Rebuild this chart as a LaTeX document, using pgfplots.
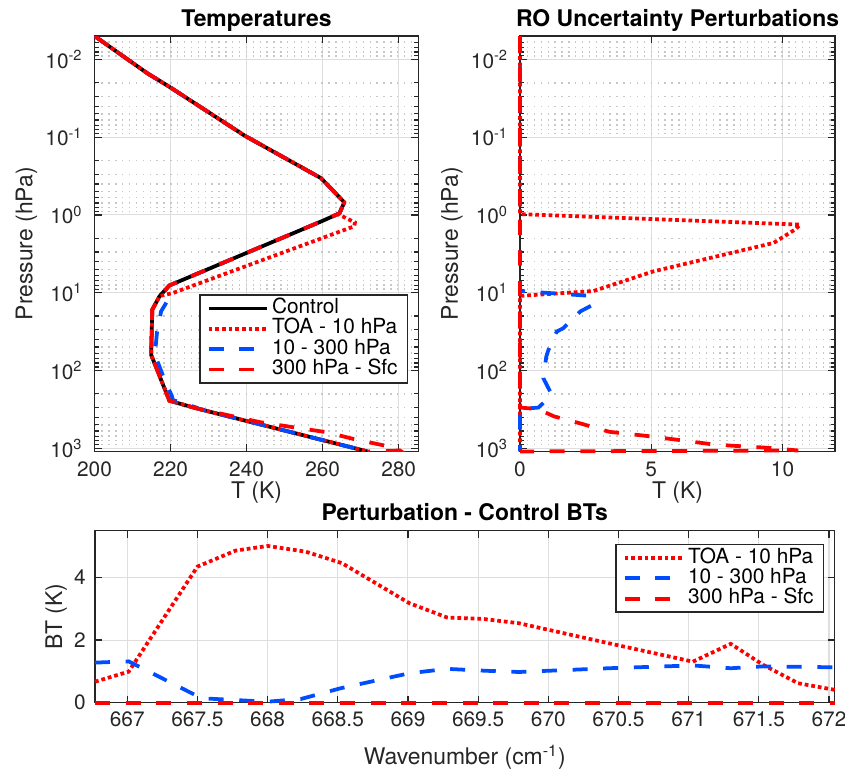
\documentclass[border=0pt]{standalone}
\usepackage{fontspec}
\setmainfont{TeX Gyre Heros}
\usepackage{pgfplots}
\pgfplotsset{compat=1.18}
\definecolor{mblue}{RGB}{0,76,255}
\definecolor{mred}{RGB}{255,0,0}
\definecolor{axgray}{gray}{0.15}
\pgfkeys{/pgf/number format/assume math mode=true}

\tikzset{
  ctrl/.style={black, line width=1.8pt, line join=round},
  toa/.style={mred, line width=1.8pt, dash pattern=on 1.8pt off 1.4pt},
  mid/.style={mblue, line width=1.8pt, dash pattern=on 7.2pt off 7.5pt},
  sfc/.style={mred, line width=1.8pt, dash pattern=on 7.2pt off 7.5pt},
}

\pgfplotsset{
  every axis title shift=0pt,
  every axis/.append style={
    scale only axis,
    axis line style={axgray, line width=0.8pt},
    tick style={axgray, line width=0.6pt},
    tick align=inside,
    major tick length=3.4pt,
    minor tick length=2pt,
    xmajorgrids=true, ymajorgrids=true,
    major grid style={black!13, line width=0.5pt},
    minor grid style={black!22, line width=0.7pt, dash pattern=on 0.7pt off 2.6pt},
    tick label style={font=\fontsize{10}{12}\selectfont, text=axgray},
    label style={font=\fontsize{11}{13}\selectfont, text=axgray},
    legend cell align=left,
    legend style={draw=axgray, line width=0.6pt, fill=white, inner xsep=3.3pt, inner ysep=1.6pt,
      font=\fontsize{10}{10}\selectfont, text=black, row sep=0pt,
      nodes={inner xsep=1.5pt, inner ysep=0pt, text height=7.3pt, text depth=2.45pt}},
    legend image code/.code={\draw[#1] (2pt,0pt) -- (30pt,0pt);},
  },
}

\begin{document}
\begin{tikzpicture}
% ---------------- Temperatures ----------------
\begin{axis}[
  at={(45.36pt,-17.28pt)}, anchor=north west,
  width=155.5pt, height=199.4pt,
  ymode=log, y dir=reverse, ymin=0.005, ymax=1100,
  ytick={0.01,0.1,1,10,100,1000},
  yticklabels={10\textsuperscript{-2},10\textsuperscript{-1},10\textsuperscript{0},10\textsuperscript{1},10\textsuperscript{2},10\textsuperscript{3}},
  minor ytick={0.006,0.007,0.008,0.009,0.02,0.03,0.04,0.05,0.06,0.07,0.08,0.09,0.2,0.3,0.4,0.5,0.6,0.7,0.8,0.9,2,3,4,5,6,7,8,9,20,30,40,50,60,70,80,90,200,300,400,500,600,700,800,900},
  yminorgrids=true,
  xmin=200, xmax=285.2, xtick={200,220,240,260,280},
  xticklabel style={anchor=base, inner sep=0pt, yshift=-11.8pt},
  yticklabel style={anchor=east, inner sep=0pt, xshift=-5.5pt},
  xlabel={T (K)},
  xlabel style={at={(axis description cs:0.5,0)}, anchor=base, yshift=-22.6pt},
  ylabel={Pressure (hPa)},
  ylabel style={at={([xshift=-29.8pt]axis description cs:0,0.5)}, anchor=base},
  title={Temperatures},
  title style={font=\bfseries\fontsize{11}{13}\selectfont, at={([yshift=4.5pt]axis description cs:0.5,1)}, anchor=base},
  legend style={at={(0.9685,0.378)}, anchor=north east},
]
\addplot[ctrl] coordinates {(200.0,0.005) (214.0,0.0152) (219.7,0.0225) (239.4,0.095) (259.6,0.337) (265.7,0.69) (264.4,0.955) (260.0,1.19) (219.7,8.07) (217.1,11.1) (215.2,16.5) (214.9,63) (219.7,245) (226.7,306) (271.8,1100)};
\addlegendentry{Control}
\addplot[toa] coordinates {(200.0,0.005) (214.0,0.0152) (219.7,0.0225) (239.4,0.095) (259.6,0.337) (265.7,0.69) (264.4,0.955) (264.0,0.9753) (268.5,1.25) (268.3,1.40) (220.6,10.1) (217.2,11.0) (215.2,16.5) (214.9,63) (219.7,245) (226.7,306) (271.8,1100)};
\addlegendentry{TOA - 10 hPa}
\addplot[mid] coordinates {(200.0,0.005) (214.0,0.0152) (219.7,0.0225) (239.4,0.095) (259.6,0.337) (265.7,0.69) (264.4,0.955) (260.0,1.19) (219.7,8.07) (218.4,9.51) (219.9,11.0) (218.5,14.46) (217.5,17.4) (216.75,28.6) (216.45,31.6) (216.0,54.7) (216.1,66.7) (218.45,133) (219.5,174) (220.3,209) (220.6,240) (226.8,300) (227.6,314) (271.8,1100)};
\addlegendentry{10 - 300 hPa}
\addplot[sfc] coordinates {(200.0,0.005) (214.0,0.0152) (219.7,0.0225) (239.4,0.095) (259.6,0.337) (265.7,0.69) (264.4,0.955) (260.0,1.19) (219.7,8.07) (217.1,11.1) (215.2,16.5) (214.9,63) (219.7,245) (226.05,300) (235.5,380) (243.4,461) (252.1,536) (260.9,621) (267.9,756) (278.3,971) (279.6,1018) (280.3,1070) (271.8,1100)};
\addlegendentry{300 hPa - Sfc}
\end{axis}

% ---------------- RO Uncertainty Perturbations ----------------
\begin{axis}[
  at={(249.6pt,-17.28pt)}, anchor=north west,
  width=151.2pt, height=199.4pt,
  ymode=log, y dir=reverse, ymin=0.005, ymax=1100,
  ytick={0.01,0.1,1,10,100,1000},
  yticklabels={10\textsuperscript{-2},10\textsuperscript{-1},10\textsuperscript{0},10\textsuperscript{1},10\textsuperscript{2},10\textsuperscript{3}},
  minor ytick={0.006,0.007,0.008,0.009,0.02,0.03,0.04,0.05,0.06,0.07,0.08,0.09,0.2,0.3,0.4,0.5,0.6,0.7,0.8,0.9,2,3,4,5,6,7,8,9,20,30,40,50,60,70,80,90,200,300,400,500,600,700,800,900},
  yminorgrids=true,
  xmin=0, xmax=12, xtick={0,5,10},
  xticklabel style={anchor=base, inner sep=0pt, yshift=-11.8pt},
  yticklabel style={anchor=east, inner sep=0pt, xshift=-5.5pt},
  xlabel={T (K)},
  xlabel style={at={(axis description cs:0.5,0)}, anchor=base, yshift=-22.6pt},
  ylabel={Pressure (hPa)},
  ylabel style={at={([xshift=-29.8pt]axis description cs:0,0.5)}, anchor=base},
  title={RO Uncertainty Perturbations},
  title style={font=\bfseries\fontsize{11}{13}\selectfont, at={([yshift=4.5pt]axis description cs:0.5,1)}, anchor=base},
  clip=false,
]
\addplot[toa] coordinates {(0,0.005) (0,0.9753) (10.67,1.33) (10.48,1.54) (9.66,2.29) (5.08,5.32) (2.8,9.51) (0,11.0) (0,1100)};
\addplot[mid] coordinates {(0,0.005) (0,9.51) (2.7,11.0) (2.75,14.46) (2.3,17.4) (1.65,28.6) (1.4,31.6) (1.08,54.7) (1.0,66.7) (0.89,126) (1.21,205) (0.95,250) (0.7,300) (0,314) (0,1100)};
\addplot[sfc] coordinates {(0,0.005) (0,300) (0.68,314) (1.3,390) (2.3,480) (3.4,615) (4.9,700) (6.0,780) (7.2,880) (8.0,925) (9.5,990) (10.6,1070) (0,1100)};
\end{axis}

% ---------------- Perturbation - Control BTs ----------------
\begin{axis}[
  at={(45.6pt,-254.7pt)}, anchor=north west,
  width=355pt, height=82.56pt,
  xmin=666.77, xmax=672.04, ymin=0, ymax=5.5,
  xtick={667,667.5,668,668.5,669,669.5,670,670.5,671,671.5,672},
  xticklabels={667,667.5,668,668.5,669,669.5,670,670.5,671,671.5,672},
  ytick={0,2,4},
  xticklabel style={anchor=base, inner sep=0pt, yshift=-11.5pt},
  yticklabel style={anchor=east, inner sep=0pt, xshift=-4.3pt},
  xlabel={Wavenumber (cm\textsuperscript{-1})},
  xlabel style={at={(axis description cs:0.5,0)}, anchor=base, yshift=-29.8pt},
  ylabel={BT (K)},
  ylabel style={at={([xshift=-15.8pt]axis description cs:0,0.5)}, anchor=base},
  title={Perturbation - Control BTs},
  title style={font=\bfseries\fontsize{11}{13}\selectfont, at={([yshift=4.8pt]axis description cs:0.5,1)}, anchor=base},
  clip=false,
  legend style={at={(0.986,0.923)}, anchor=north east},
]
\addplot[toa] coordinates {(666.77,0.67) (667.01,0.99) (667.50,4.35) (667.77,4.86) (668.00,5.01) (668.27,4.83) (668.53,4.46) (669.01,3.18) (669.28,2.72) (669.53,2.68) (669.79,2.54) (670.43,1.90) (671.03,1.31) (671.30,1.88) (671.53,1.21) (671.78,0.62) (672.04,0.41)};
\addlegendentry{TOA - 10 hPa}
\addplot[mid] coordinates {(666.77,1.28) (667.01,1.32) (667.53,0.14) (668.00,0.03) (668.24,0.12) (668.52,0.46) (669.01,0.94) (669.28,1.08) (669.55,1.02) (669.79,0.98) (670.43,1.10) (671.03,1.19) (671.30,1.10) (671.53,1.16) (672.04,1.13)};
\addlegendentry{10 - 300 hPa}
\addplot[sfc] coordinates {(666.77,0) (667.01,0) (667.50,0) (668.00,0) (668.50,0) (669.00,0) (669.50,0) (670.00,0) (670.50,0) (671.00,0) (671.50,0) (672.04,0)};
\addlegendentry{300 hPa - Sfc}
\end{axis}

\pgfresetboundingbox
\path (0pt,0pt) rectangle (405.6pt,-370.56pt);
\end{tikzpicture}
\end{document}
